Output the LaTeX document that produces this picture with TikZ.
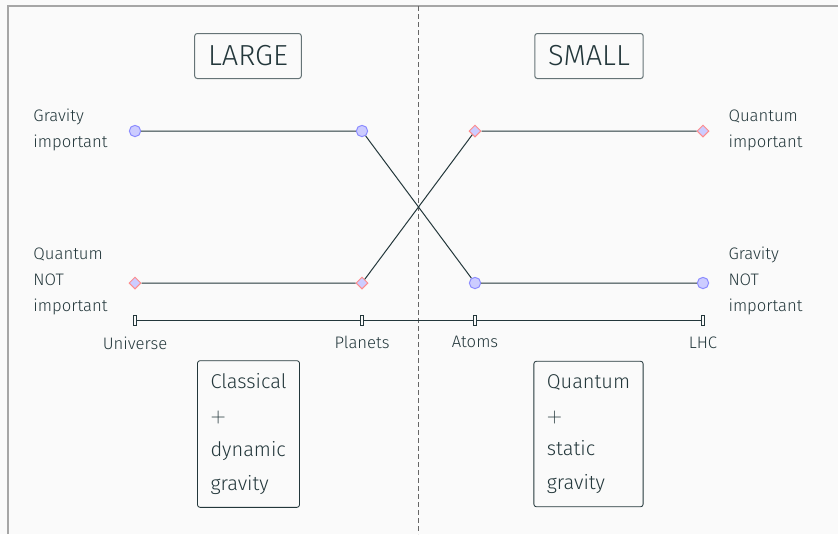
\documentclass[tikz,border=0pt]{standalone}
\usepackage{fontspec}
\setmainfont{Fira Sans}[UprightFont=* Light]
\setsansfont{Fira Sans}[UprightFont=* Light]
\usepackage{tikz}
\usetikzlibrary{positioning, shapes.geometric}
\definecolor{mdteal}{HTML}{23373B}
\definecolor{paperbg}{HTML}{FAFAFA}

\begin{document}
\begin{tikzpicture}[x=0.6pt, y=-0.6pt, line width=0.6pt, color=mdteal,
    gravpt/.style={circle, draw=blue!45, fill=blue!20, minimum size=6.8pt, inner sep=0pt},
    quanpt/.style={diamond, draw=red!45, fill=blue!20, minimum size=7.2pt, inner sep=0pt},
    scalemark/.style={draw=mdteal, line width=0.5pt, fill=paperbg, minimum width=2pt, minimum height=6pt, inner sep=0pt},
    sidetext/.style={align=left, inner sep=0pt, font=\fontsize{10}{15.6}\selectfont},
    headbox/.style={draw=mdteal!70, rounded corners=1.5pt, inner xsep=8pt, minimum height=27pt, font=\fontsize{17.4}{20}\selectfont},
    regimebox/.style={draw=mdteal, line width=0.5pt, rounded corners=1.5pt, align=left, inner sep=7.8pt, font=\fontsize{12}{20.3}\selectfont}]
    % Page
    \fill[paperbg] (0,0) rectangle (838,534);
    \useasboundingbox (0,0) rectangle (838,534);
    \coordinate (fbl) at (8,534);
    \coordinate (ftl) at (8,6);
    \coordinate (ftr) at (838,6);
    \draw[black!35, line width=0.8pt] (fbl) -- (ftl) -- (ftr);
    \coordinate (midtop) at (418,6);
    \coordinate (midbot) at (418,534);
    \draw[black!60, line width=0.5pt, dash pattern=on 3pt off 1.8pt] (midtop) -- (midbot);

    % Headings
    \node[headbox] (large) at (248,56) {LARGE};
    \node[headbox] (small) at (589,56) {SMALL};

    % Scale
    \node[scalemark, label={[label distance=3pt, font=\fontsize{10}{12}\selectfont]below:Universe}] (uni) at (135,320) {};
    \node[scalemark, label={[label distance=3pt, font=\fontsize{10}{12}\selectfont]below:Planets}] (pla) at (362,320) {};
    \node[scalemark, label={[label distance=3pt, font=\fontsize{10}{12}\selectfont]below:Atoms}] (ato) at (475,320) {};
    \node[scalemark, label={[label distance=3pt, font=\fontsize{10}{12}\selectfont]below:LHC}] (lhc) at (703,320) {};
    \draw (uni) -- (pla) -- (ato) -- (lhc);

    % Points
    \node[gravpt] (g1) at (135,131) {};
    \node[gravpt] (g2) at (362,131) {};
    \node[gravpt] (g3) at (475,283) {};
    \node[gravpt] (g4) at (703,283) {};
    \node[quanpt] (q1) at (135,283) {};
    \node[quanpt] (q2) at (362,283) {};
    \node[quanpt] (q3) at (475,131) {};
    \node[quanpt] (q4) at (703,131) {};

    % Connections
    \draw (g1) -- (g2) -- (g3) -- (g4);
    \draw (q1) -- (q2) -- (q3) -- (q4);

    % Side texts
    \node[sidetext, anchor=west] (gimp) at (33,130) {Gravity\\important};
    \node[sidetext, anchor=west] (qnot) at (33,281) {Quantum\\NOT\\important};
    \node[sidetext, anchor=west] (qimp) at (728,130) {Quantum\\important};
    \node[sidetext, anchor=west] (gnot) at (728,281) {Gravity\\NOT\\important};

    % Regimes
    \node[regimebox] (classic) at (248.5,434) {Classical\\$+$\\dynamic\\gravity};
    \node[regimebox] (quantum) at (588.5,434) {Quantum\\$+$\\static\\gravity};
\end{tikzpicture}
\end{document}
